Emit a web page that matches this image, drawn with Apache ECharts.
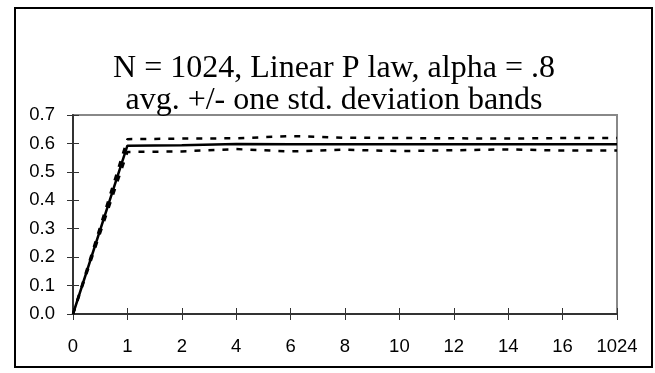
<!DOCTYPE html>
<html><head><meta charset="utf-8">
<script src="https://cdn.jsdelivr.net/npm/echarts@6/dist/echarts.min.js"></script>
<style>
html,body{margin:0;padding:0;background:#fff;}
#c{position:absolute;left:0;top:0;width:655px;height:373px;}
#frame{position:absolute;left:14px;top:7px;width:635px;height:357px;border:2px solid #000;pointer-events:none;}
</style></head>
<body>
<div id="c"></div>
<div id="frame"></div>
<script>
const categories = ['0','1','2','4','6','8','10','12','14','16','1024'];
const avgValues   = [0, 0.592, 0.594, 0.598, 0.597, 0.597, 0.597, 0.597, 0.597, 0.597, 0.597];
const upperValues = [0, 0.615, 0.617, 0.618, 0.626, 0.620, 0.619, 0.618, 0.617, 0.619, 0.619];
const lowerValues = [0, 0.570, 0.572, 0.580, 0.572, 0.578, 0.573, 0.576, 0.579, 0.575, 0.575];
const titleLines = ['N = 1024, Linear P law, alpha = .8', 'avg. +/- one std. deviation bands'];

const chart = echarts.init(document.getElementById('c'));
const axisCol = '#333';
const lblStyle = {color:'#000', fontFamily:'Liberation Sans, Arial, sans-serif', fontSize:18.5};
const grid = {left:73, right:38, top:115, bottom:59, show:true, borderColor:'#888', borderWidth:2, backgroundColor:'#fff'};
chart.setOption({
  animation:false,
  title:{text:titleLines.join('\n'), left:329, textAlign:'center', top:48,
    textStyle:{fontFamily:'Liberation Serif, Times New Roman, serif', fontWeight:'normal', fontSize:32, lineHeight:32, color:'#000'}},
  grid:[grid],
  xAxis:[
    {type:'category', data:categories, boundaryGap:false,
     axisLine:{lineStyle:{color:axisCol, width:2}},
     axisTick:{show:true, length:6, inside:false, lineStyle:{color:axisCol, width:1}, interval:0},
     axisLabel:{...lblStyle, margin:23, interval:0}, splitLine:{show:false}},
    {type:'category', data:categories, boundaryGap:false, position:'bottom',
     axisLine:{show:false}, axisTick:{show:true, inside:true, length:6, lineStyle:{color:axisCol, width:1}, interval:0},
     axisLabel:{show:false}, splitLine:{show:false}}
  ],
  yAxis:[
    {type:'value', min:0, max:0.7, interval:0.1,
     axisLine:{show:true, lineStyle:{color:axisCol, width:2}},
     axisTick:{show:true, length:6, lineStyle:{color:axisCol, width:1}},
     axisLabel:{...lblStyle, margin:18, formatter:v=>v.toFixed(1)}, splitLine:{show:false}},
    {type:'value', min:0, max:0.7, interval:0.1, position:'left',
     axisLine:{show:false}, axisTick:{show:true, inside:true, length:6, lineStyle:{color:axisCol, width:1}},
     axisLabel:{show:false}, splitLine:{show:false}}
  ],
  series:[
    {type:'line', data:upperValues, symbol:'none', lineStyle:{color:'#000', width:2.5, type:[6,8]}, z:3},
    {type:'line', data:lowerValues, symbol:'none', lineStyle:{color:'#000', width:2.5, type:[6,8]}, z:3},
    {type:'line', data:avgValues, symbol:'none', lineStyle:{color:'#000', width:2.5}, z:4}
  ]
});
</script>
</body></html>
